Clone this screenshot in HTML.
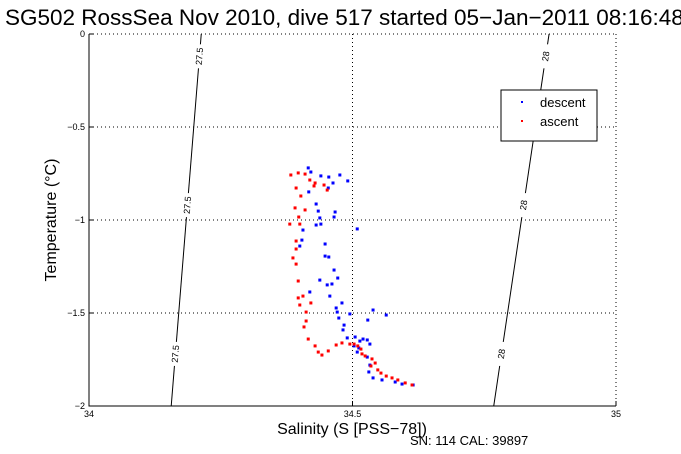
<!DOCTYPE html>
<html><head><meta charset="utf-8"><style>
body{margin:0;background:#fff;}
svg{display:block;font-family:"Liberation Sans",sans-serif;}
</style></head><body>
<svg id="chart" width="681" height="454" xmlns="http://www.w3.org/2000/svg">
<rect x="0" y="0" width="681" height="454" fill="#fff"/>
<text x="5" y="25" font-size="22.5">SG502 RossSea Nov 2010, dive 517 started 05−Jan−2011 08:16:48</text>
<g id="grid"></g>
<g id="contours"></g>
<g id="axes"></g>
<g id="pts"></g>
<text x="352" y="434" font-size="16" text-anchor="middle">Salinity (S [PSS−78])</text>
<text x="410" y="445" font-size="13">SN: 114  CAL: 39897</text>
<text transform="translate(56,220) rotate(-90)" font-size="16" text-anchor="middle">Temperature (°C)</text>
<g>
<rect x="501" y="90" width="96" height="51" fill="#fff" stroke="#000"/>
<rect x="521" y="101" width="2" height="2" fill="#00f"/>
<text x="540" y="107" font-size="13">descent</text>
<rect x="521" y="120" width="2" height="2" fill="#f00"/>
<text x="540" y="126" font-size="13">ascent</text>
</g>
</svg>
<script>
const xTicks=[34,34.5,35];
const xTickLabels=["34","34.5","35"];
const yTicks=[0,-0.5,-1,-1.5,-2];
const yTickLabels=["0","−0.5","−1","−1.5","−2"];
const isoLabels=["27.5","28"];
const isoTopS=[34.213,34.873];
const isoBotS=[34.156,34.768];
const descentS=[34.416,34.421,34.440,34.455,34.476,34.491,34.463,34.454,34.417,34.431,34.435,34.467,34.465,34.438,34.440,34.431,34.406,34.509,34.448,34.404,34.448,34.455,34.400,34.465,34.472,34.438,34.452,34.461,34.419,34.457,34.480,34.469,34.471,34.474,34.484,34.482,34.495,34.539,34.564,34.529,34.490,34.505,34.503,34.514,34.512,34.520,34.528,34.533,34.509,34.528,34.533,34.531,34.539,34.556,34.581,34.594,34.615];
const descentT=[-0.720,-0.742,-0.763,-0.769,-0.758,-0.790,-0.801,-0.828,-0.849,-0.914,-0.952,-0.957,-0.984,-0.989,-1.022,-1.027,-1.054,-1.048,-1.129,-1.108,-1.194,-1.199,-1.140,-1.269,-1.312,-1.323,-1.349,-1.344,-1.387,-1.409,-1.446,-1.473,-1.495,-1.527,-1.565,-1.591,-1.505,-1.484,-1.511,-1.538,-1.634,-1.629,-1.677,-1.651,-1.688,-1.640,-1.645,-1.667,-1.710,-1.737,-1.780,-1.817,-1.849,-1.860,-1.871,-1.882,-1.887];
const ascentS=[34.383,34.397,34.410,34.419,34.429,34.427,34.446,34.452,34.393,34.402,34.391,34.410,34.398,34.400,34.381,34.393,34.393,34.387,34.393,34.397,34.406,34.397,34.421,34.400,34.412,34.412,34.408,34.416,34.429,34.435,34.442,34.454,34.469,34.480,34.495,34.510,34.516,34.503,34.518,34.524,34.537,34.543,34.535,34.548,34.554,34.564,34.575,34.586,34.600,34.613];
const ascentT=[-0.758,-0.747,-0.753,-0.785,-0.801,-0.817,-0.812,-0.839,-0.828,-0.871,-0.935,-0.946,-0.984,-1.022,-1.022,-1.113,-1.156,-1.204,-1.237,-1.328,-1.409,-1.419,-1.446,-1.457,-1.495,-1.543,-1.575,-1.640,-1.677,-1.710,-1.726,-1.704,-1.672,-1.661,-1.667,-1.677,-1.694,-1.667,-1.720,-1.731,-1.747,-1.769,-1.785,-1.806,-1.823,-1.839,-1.849,-1.860,-1.876,-1.887];

const X0=89,X1=616,Y0=34,Y1=406;
const xs=s=>X0+(s-34)*(X1-X0);
const ys=t=>Y0+(0-t)/2*(Y1-Y0);
const NS="http://www.w3.org/2000/svg";
function mk(tag,attrs,parent){const e=document.createElementNS(NS,tag);for(const k in attrs)e.setAttribute(k,attrs[k]);parent.appendChild(e);return e;}
const grid=document.getElementById('grid'),axes=document.getElementById('axes'),cont=document.getElementById('contours'),pts=document.getElementById('pts');

xTicks.forEach((v,i)=>{
  if(i>0){const l=mk('line',{x1:xs(v),x2:xs(v),y1:Y0,y2:Y1,stroke:'#000','stroke-dasharray':'1,3'},grid);
  
  }
  const tk=mk('line',{x1:xs(v),x2:xs(v),y1:Y1,y2:Y1-5,stroke:'#000'},axes);
  
  
  const t=mk('text',{x:xs(v),y:Y1+11,'font-size':9,'text-anchor':'middle'},axes);t.textContent=xTickLabels[i];
  
  
});
yTicks.forEach((v,i)=>{
  if(i<yTicks.length-1){const l=mk('line',{x1:X0,x2:X1,y1:ys(v),y2:ys(v),stroke:'#000','stroke-dasharray':'1,3'},grid);
  
  }
  const tk=mk('line',{x1:X0,x2:X0+5,y1:ys(v),y2:ys(v),stroke:'#000'},axes);
  
  
  const t=mk('text',{x:X0-4,y:ys(v)+3,'font-size':9,'text-anchor':'end'},axes);t.textContent=yTickLabels[i];
  
  
});
const ax=mk('path',{d:`M${X0},${Y0}V${Y1}H${X1}`,fill:'none',stroke:'#000'},axes);


const rt=mk('line',{x1:X1,x2:X1,y1:Y0,y2:Y1,stroke:'#000','stroke-dasharray':'1,3'},grid);



const labelFr=[0.06,0.46,0.86];
isoLabels.forEach((lab,i)=>{
  const xa=xs(isoTopS[i]),ya=Y0,xb=xs(isoBotS[i]),yb=Y1;
  const ln=mk('line',{x1:xa,y1:ya,x2:xb,y2:yb,stroke:'#000'},cont);
  
  
  const ang=Math.atan2(ya-yb,xa-xb)*180/Math.PI;
  labelFr.forEach(f=>{
    const cx=xa+(xb-xa)*f,cy=ya+(yb-ya)*f;
    const bg=mk('rect',{x:cx-5,y:cy-12,width:10,height:24,fill:'#fff'},cont);
    
    
    const t=mk('text',{x:0,y:3,'font-size':9,'text-anchor':'middle',transform:`translate(${cx},${cy}) rotate(${ang})`},cont);
    t.textContent=lab;
    
    
  });
});

descentS.forEach((s,i)=>{
  const r=mk('rect',{x:xs(s)-1.5,y:ys(descentT[i])-1.5,width:3,height:3,fill:'#00f'},pts);
  
  
});
ascentS.forEach((s,i)=>{
  const r=mk('rect',{x:xs(s)-1.5,y:ys(ascentT[i])-1.5,width:3,height:3,fill:'#f00'},pts);
  
  
});
</script>
</body></html>
